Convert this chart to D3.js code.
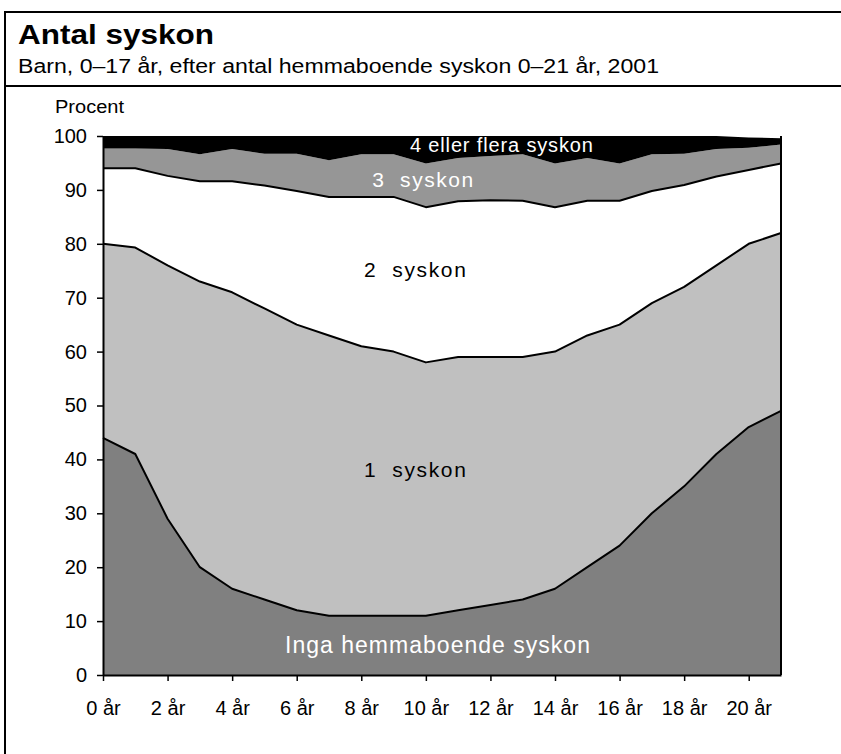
<!DOCTYPE html>
<html><head><meta charset="utf-8">
<script src="https://cdn.jsdelivr.net/npm/d3@7"></script>
<style>
body{margin:0;background:#fff;}
text{font-family:"Liberation Sans",Arial,Helvetica,sans-serif;}
</style></head>
<body><svg id="c" width="841" height="754"></svg>
<script>
const ages = [0,1,2,3,4,5,6,7,8,9,10,11,12,13,14,15,16,17,18,19,20,21];
const tickAges = [0,2,4,6,8,10,12,14,16,18,20];
const tickLabels = ["0 år","2 år","4 år","6 år","8 år","10 år","12 år","14 år","16 år","18 år","20 år"];
const yTicks = [0,10,20,30,40,50,60,70,80,90,100];
const seriesNames = ["Inga hemmaboende syskon","1  syskon","2  syskon","3  syskon","4 eller flera syskon"];
const inga = [44,41,29,20,16,14,12,11,11,11,11,12,13,14,16,20,24,30,35,41,46,49];
const ett  = [36,38.3,47,53,55,54,53,52,50,49,47,47,46,45,44,43,41,39,37,35,34,33];
const tva  = [14,14.7,16.6,18.6,20.6,22.8,24.8,25.7,27.7,28.7,28.8,28.9,29.1,29,26.8,25,23,20.8,18.9,16.5,13.7,12.9];
const tre  = [3.7,3.7,5.0,5.0,6.0,5.9,6.9,6.8,7.9,7.9,8.1,8.0,8.2,8.6,8.1,7.9,6.9,6.8,5.8,5.1,4.1,3.5];
const fyra = [2.3,2.3,2.4,3.4,2.4,3.3,3.3,4.5,3.4,3.4,5.1,4.1,3.7,3.4,5.1,4.1,5.1,3.4,3.3,2.4,1.9,1.2];
const colors = ["#808080","#c0c0c0","#ffffff","#969696","#000000"];

const svg = d3.select("#c");
// frame
svg.append("rect").attr("x",5).attr("y",12).attr("width",850).attr("height",760)
  .attr("fill","none").attr("stroke","#000").attr("stroke-width",2);
svg.append("line").attr("x1",5).attr("x2",841).attr("y1",86).attr("y2",86)
  .attr("stroke","#000").attr("stroke-width",2);
svg.append("text").attr("x",18).attr("y",44).attr("font-size",28).attr("font-weight","bold")
  .attr("textLength",196).attr("lengthAdjust","spacingAndGlyphs")
  .text("Antal syskon");
svg.append("text").attr("x",18).attr("y",73).attr("font-size",20)
  .attr("textLength",641).attr("lengthAdjust","spacingAndGlyphs")
  .text("Barn, 0–17 år, efter antal hemmaboende syskon 0–21 år, 2001");
svg.append("text").attr("x",55).attr("y",113).attr("font-size",18)
  .attr("textLength",69).attr("lengthAdjust","spacingAndGlyphs").text("Procent");

const x = d3.scaleLinear().domain([0,21]).range([103,781]);
const y = d3.scaleLinear().domain([0,100]).range([675,136]);

const rows = ages.map((a,i)=>({age:a, s0:inga[i], s1:ett[i], s2:tva[i], s3:tre[i], s4:fyra[i]}));
const keys = ["s0","s1","s2","s3","s4"];
const stack = d3.stack().keys(keys)(rows);

const area = d3.area().x(d=>x(d.data.age)).y0(d=>y(d[0])).y1(d=>y(d[1]));
const g = svg.append("g");
g.selectAll("path.a").data(stack).join("path").attr("class","a")
  .attr("d",area).attr("fill",(d,i)=>colors[i]);

const line = d3.line().x(d=>x(d.data.age)).y(d=>y(d[1]));
g.selectAll("path.l").data(stack.slice(0,3)).join("path").attr("class","l")
  .attr("d",line).attr("fill","none").attr("stroke","#000").attr("stroke-width",2)
  .attr("stroke-linejoin","round");

// right edge of plot
svg.append("line").attr("x1",x(21)).attr("x2",x(21)).attr("y1",y(100)).attr("y2",y(0))
  .attr("stroke","#000").attr("stroke-width",2);

// axes
const ya = svg.append("g").attr("transform",`translate(${x(0)},0)`)
  .call(d3.axisLeft(y).tickValues(yTicks).tickSize(6).tickSizeOuter(0).tickPadding(10));
ya.selectAll("text").attr("font-size",20).attr("fill","#000").style("font-family","'Liberation Sans',Arial,sans-serif");
ya.selectAll("line").attr("stroke","#000").attr("stroke-width",1.5);
ya.select(".domain").attr("stroke","#000").attr("stroke-width",2);

const xa = svg.append("g").attr("transform",`translate(0,${y(0)})`)
  .call(d3.axisBottom(x).tickValues(tickAges).tickFormat((d,i)=>tickLabels[i]).tickSize(6).tickSizeOuter(0).tickPadding(20));
xa.selectAll("text").attr("font-size",20).attr("fill","#000").style("font-family","'Liberation Sans',Arial,sans-serif");
xa.selectAll("line").attr("stroke","#000").attr("stroke-width",1.5);
xa.select(".domain").attr("stroke","#000").attr("stroke-width",2);

// series labels
const labels = [
  {t:seriesNames[0], ax:10.36, v:4.0, c:"#fff", fs:23, w:305},
  {t:seriesNames[1], ax:9.66, v:36.8, c:"#000", fs:21, w:102},
  {t:seriesNames[2], ax:9.66, v:73.9, c:"#000", fs:21, w:102},
  {t:seriesNames[3], ax:9.9, v:90.6, c:"#fff", fs:21, w:101},
  {t:seriesNames[4], ax:12.34, v:97.1, c:"#fff", fs:20, w:183}
];
svg.selectAll("text.lab").data(labels).join("text").attr("class","lab")
  .attr("x",d=>x(d.ax)).attr("y",d=>y(d.v)).attr("text-anchor","middle")
  .attr("font-size",d=>d.fs).attr("fill",d=>d.c)
  .attr("textLength",d=>d.w).attr("lengthAdjust","spacing")
  .style("white-space","pre")
  .text(d=>d.t);
</script></body></html>
